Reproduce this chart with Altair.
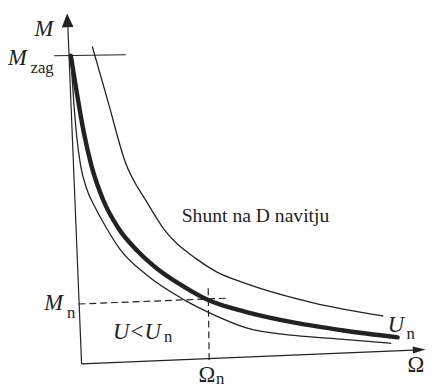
import altair as alt
import pandas as pd

# Curves (Omega, M in drawing units; origin at the axes' corner)
omega_outer = [11, 27, 44, 67, 84, 117, 137, 167, 237, 307]
m_outer = [323, 267, 207, 164, 137, 107, 94, 82, 62, 49]
omega_thick = [-11, -5, 2, 10, 22, 37, 57, 77, 102, 129, 167, 217, 267, 322]
m_thick = [314, 277, 237, 202, 167, 139, 115, 97, 80, 65, 53, 42, 34, 27]
omega_inner = [-11, -8, -5, -1, 5, 14, 25, 39, 67, 105, 137, 167, 217, 267, 315]
m_inner = [312, 267, 232, 202, 179, 159, 139, 117, 90, 65, 49, 37, 29, 25, 21]

# Reference values
m_zag = 314
m_n = 64
omega_n = 129

XD = [-75, 355]
YD = [-24, 359]
xs = alt.Scale(domain=XD, nice=False, zero=False)
ys = alt.Scale(domain=YD, nice=False, zero=False)
INK = "#222222"
SERIF = "Liberation Serif"


def curve(o, m):
    return pd.DataFrame({"o": o, "m": m, "i": list(range(len(o)))})


def line_layer(df, width):
    return alt.Chart(df).mark_line(
        interpolate="monotone", color=INK, strokeWidth=width, strokeCap="round"
    ).encode(
        x=alt.X("o:Q", scale=xs, axis=None),
        y=alt.Y("m:Q", scale=ys, axis=None),
        order="i:Q",
    )


outer = line_layer(curve(omega_outer, m_outer), 1.3)
inner = line_layer(curve(omega_inner, m_inner), 1.3)
thick = line_layer(curve(omega_thick, m_thick), 4.5)

# Axes and guide lines (segments)
segs_solid = pd.DataFrame({
    "x1": [0, 0, -28],
    "y1": [0, 0, m_zag],
    "x2": [-14, 338, 45],
    "y2": [343, 14, m_zag + 1],
})
segs_dash = pd.DataFrame({
    "x1": [-3, omega_n],
    "y1": [m_n - 3, m_n + 13],
    "x2": [150, omega_n + 1],
    "y2": [m_n + 3, 3],
})


def seg_layer(df, dash=None):
    kw = dict(color=INK, strokeWidth=1.2)
    if dash:
        kw["strokeDash"] = dash
    return alt.Chart(df).mark_rule(**kw).encode(
        x=alt.X("x1:Q", scale=xs, axis=None),
        y=alt.Y("y1:Q", scale=ys, axis=None),
        x2="x2:Q",
        y2="y2:Q",
    )


solid = seg_layer(segs_solid)
dashed = seg_layer(segs_dash, [7, 4])

up_arrow = alt.Chart(pd.DataFrame({"x": [-14.5], "y": [350]})).mark_point(
    shape="M0,-1L0.85,1L-0.85,1Z", size=196, filled=True, color=INK,
    opacity=1, strokeWidth=0, angle=357.6
).encode(x=alt.X("x:Q", scale=xs, axis=None), y=alt.Y("y:Q", scale=ys, axis=None))

right_arrow = alt.Chart(pd.DataFrame({"x": [344], "y": [14.5]})).mark_point(
    shape="M1,0L-1,-0.55L-1,0.55Z", size=169, filled=True, color=INK,
    opacity=1, strokeWidth=0, angle=357.6
).encode(x=alt.X("x:Q", scale=xs, axis=None), y=alt.Y("y:Q", scale=ys, axis=None))

# Labels
big_italic = pd.DataFrame({
    "t": ["M", "M", "M", "U<U", "U"],
    "x": [-48, -75, -38, 32, 312],
    "y": [334, 305, 55, 25, 32],
})
small_sub = pd.DataFrame({
    "t": ["zag", "n", "n", "n", "n"],
    "x": [-52, -15, 84, 137, 331],
    "y": [296, 47, 22, -20, 25],
})
upright_big = pd.DataFrame({
    "t": ["Ω", "Ω"],
    "x": [119, 332],
    "y": [-18, -8],
})
note = pd.DataFrame({"t": ["Shunt na D navitju"], "x": [102], "y": [145]})


def text_layer(df, size, italic=False):
    kw = dict(font=SERIF, fontSize=size, align="left", baseline="alphabetic", color=INK)
    if italic:
        kw["fontStyle"] = "italic"
    return alt.Chart(df).mark_text(**kw).encode(
        x=alt.X("x:Q", scale=xs, axis=None),
        y=alt.Y("y:Q", scale=ys, axis=None),
        text="t:N",
    )


t1 = text_layer(big_italic, 23, True)
t2 = text_layer(small_sub, 17)
t3 = text_layer(upright_big, 23)
t4 = text_layer(note, 20)

chart = alt.layer(
    solid, dashed, up_arrow, right_arrow, outer, inner, thick, t1, t2, t3, t4
).properties(
    width=430, height=383, padding=0, autosize=alt.AutoSizeParams(type="none")
).configure_view(stroke=None)

chart.save("out.html", embed_options={"renderer": "svg", "actions": False})
